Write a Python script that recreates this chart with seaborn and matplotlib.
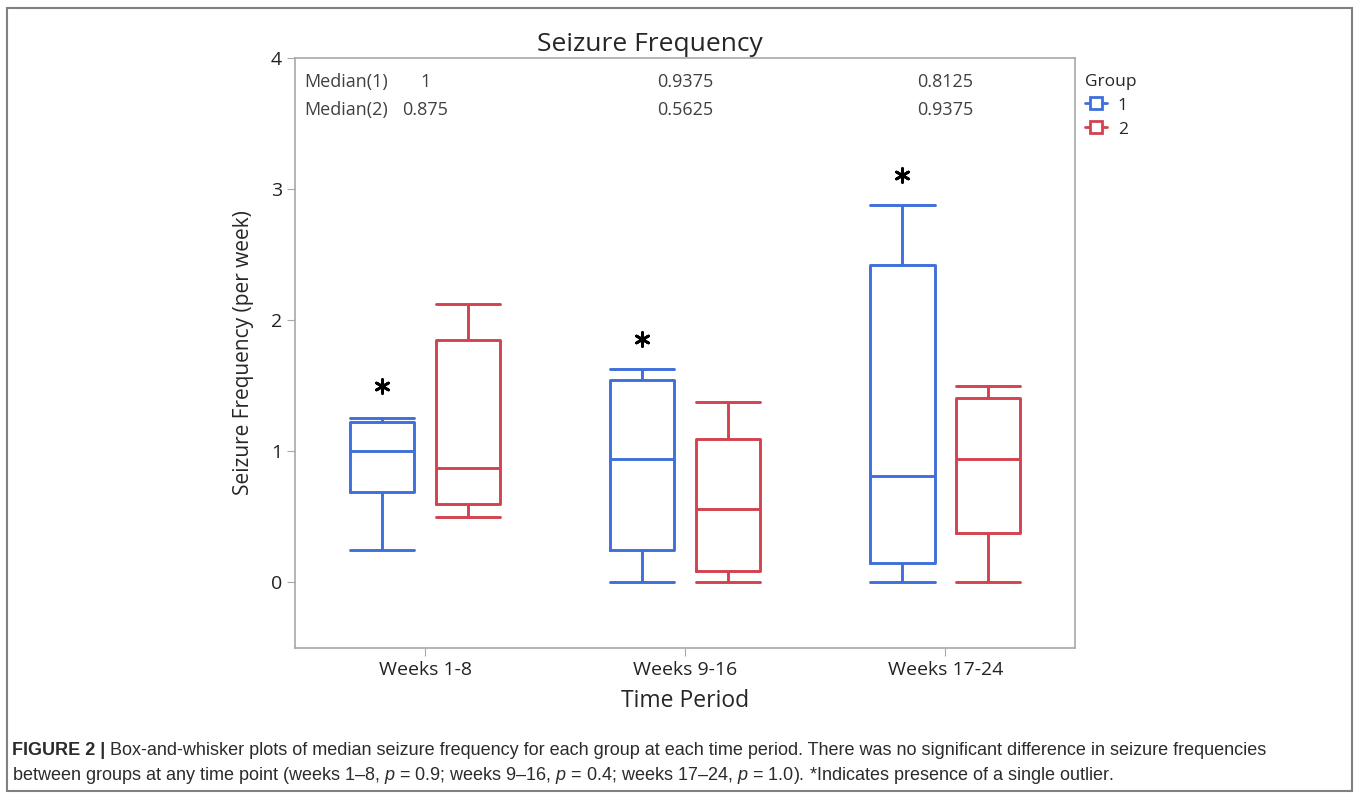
import numpy as np
import pandas as pd
import seaborn as sns
import matplotlib.pyplot as plt
from matplotlib.lines import Line2D
from matplotlib.patches import Rectangle

# Box statistics (min, q1, median, q3, max per period)
periods = ["Weeks 1-8", "Weeks 9-16", "Weeks 17-24"]
groups = ["1", "2"]

g1_min = [0.25, 0.0, 0.0]
g1_q1 = [0.6875, 0.25, 0.15]
g1_med = [1.0, 0.9375, 0.8125]
g1_q3 = [1.22, 1.54, 2.42]
g1_max = [1.25, 1.625, 2.875]

g2_min = [0.5, 0.0, 0.0]
g2_q1 = [0.6, 0.09, 0.375]
g2_med = [0.875, 0.5625, 0.9375]
g2_q3 = [1.85, 1.09, 1.41]
g2_max = [2.125, 1.375, 1.5]

# single outlier (group 1) shown as asterisk
g1_outlier = [1.5, 1.86, 3.11]

median1_labels = ["1", "0.9375", "0.8125"]
median2_labels = ["0.875", "0.5625", "0.9375"]

colors = {"1": "#3F6FDA", "2": "#D3424F"}

# 5 values per box -> linear percentiles give exactly q1/median/q3
records = []
stats = {"1": [g1_min, g1_q1, g1_med, g1_q3, g1_max],
         "2": [g2_min, g2_q1, g2_med, g2_q3, g2_max]}
for i, p in enumerate(periods):
    for g in groups:
        for s in stats[g]:
            records.append({"Period": p, "Group": g, "Value": s[i]})
df = pd.DataFrame(records)

sns.set_style("white")
plt.rcParams["font.family"] = ["Open Sans", "DejaVu Sans"]
plt.rcParams["mathtext.fontset"] = "custom"
plt.rcParams["mathtext.it"] = "Liberation Sans:italic"
plt.rcParams["mathtext.rm"] = "Liberation Sans"

fig = plt.figure(figsize=(13.57, 7.94), dpi=100)
ax = fig.add_axes([0.2174, 0.184, 0.575, 0.743])

sns.boxplot(data=df, x="Period", y="Value", hue="Group", hue_order=groups,
            palette=colors, fill=False, whis=(0, 100), width=0.66, gap=0.25,
            linewidth=2.1, capwidths=0.2475, legend=False, ax=ax)

# outliers as asterisks
ax.scatter(np.arange(len(periods)) - 0.165, g1_outlier, marker=(6, 2, 0),
           s=100, color="black", linewidths=2.0, zorder=5)

ax.set_xlim(-0.5, 2.5)
ax.set_ylim(-0.5, 4)
ax.set_yticks([0, 1, 2, 3, 4])

for s in ax.spines.values():
    s.set_color("#A8A8A8")
    s.set_linewidth(1.2)
ax.tick_params(left=True, bottom=True, length=6, color="#A8A8A8",
               labelsize=14, labelcolor="#222222")

ax.set_title("Seizure Frequency", fontsize=19, pad=5, x=0.455)
ax.set_xlabel("Time Period", fontsize=16.5, labelpad=7)
ax.set_ylabel("Seizure Frequency (per week)", fontsize=15, labelpad=12)

# median annotations
ytr = ax.get_yaxis_transform()
med_kw = dict(fontsize=13, color="#404040", va="center")
ax.text(0.012, 3.82, "Median(1)", transform=ytr, **med_kw)
ax.text(0.012, 3.60, "Median(2)", transform=ytr, **med_kw)
for i in range(len(periods)):
    ax.text(i, 3.82, median1_labels[i], ha="center", **med_kw)
    ax.text(i, 3.60, median2_labels[i], ha="center", **med_kw)

handles = [Line2D([], [], color=colors[g], marker="s", markersize=8,
                  markerfacecolor="white", markeredgewidth=2.0, linewidth=2.0)
           for g in groups]
leg = ax.legend(handles, groups, title="Group", loc="upper left",
                bbox_to_anchor=(0.992, 1.0), frameon=False, fontsize=12.5,
                title_fontsize=12.5, handlelength=1.3, handletextpad=0.6,
                labelspacing=0.45, alignment="left")

# caption
cap_kw = dict(fontsize=13, color="#2b2b2b", family=["Liberation Sans", "DejaVu Sans"])
t1 = fig.text(0.0088, 0.044, "FIGURE 2 |", fontweight="bold", va="bottom", **cap_kw)
ax.annotate(" Box-and-whisker plots of median seizure frequency for each group at each time period. "
            "There was no significant difference in seizure frequencies",
            xy=(1, 0), xycoords=t1, va="bottom", annotation_clip=False, **cap_kw)
fig.text(0.0088, 0.0105, "between groups at any time point (weeks 1\u20138, $p$ = 0.9; weeks 9\u201316, "
         "$p$ = 0.4; weeks 17\u201324, $p$ = 1.0). *Indicates presence of a single outlier.",
         va="bottom", **cap_kw)

fig.add_artist(Rectangle((0.005, 0.004), 0.991, 0.986, transform=fig.transFigure,
                         fill=False, edgecolor="#808080", linewidth=1.5))

fig.savefig("out.png", dpi=100)
